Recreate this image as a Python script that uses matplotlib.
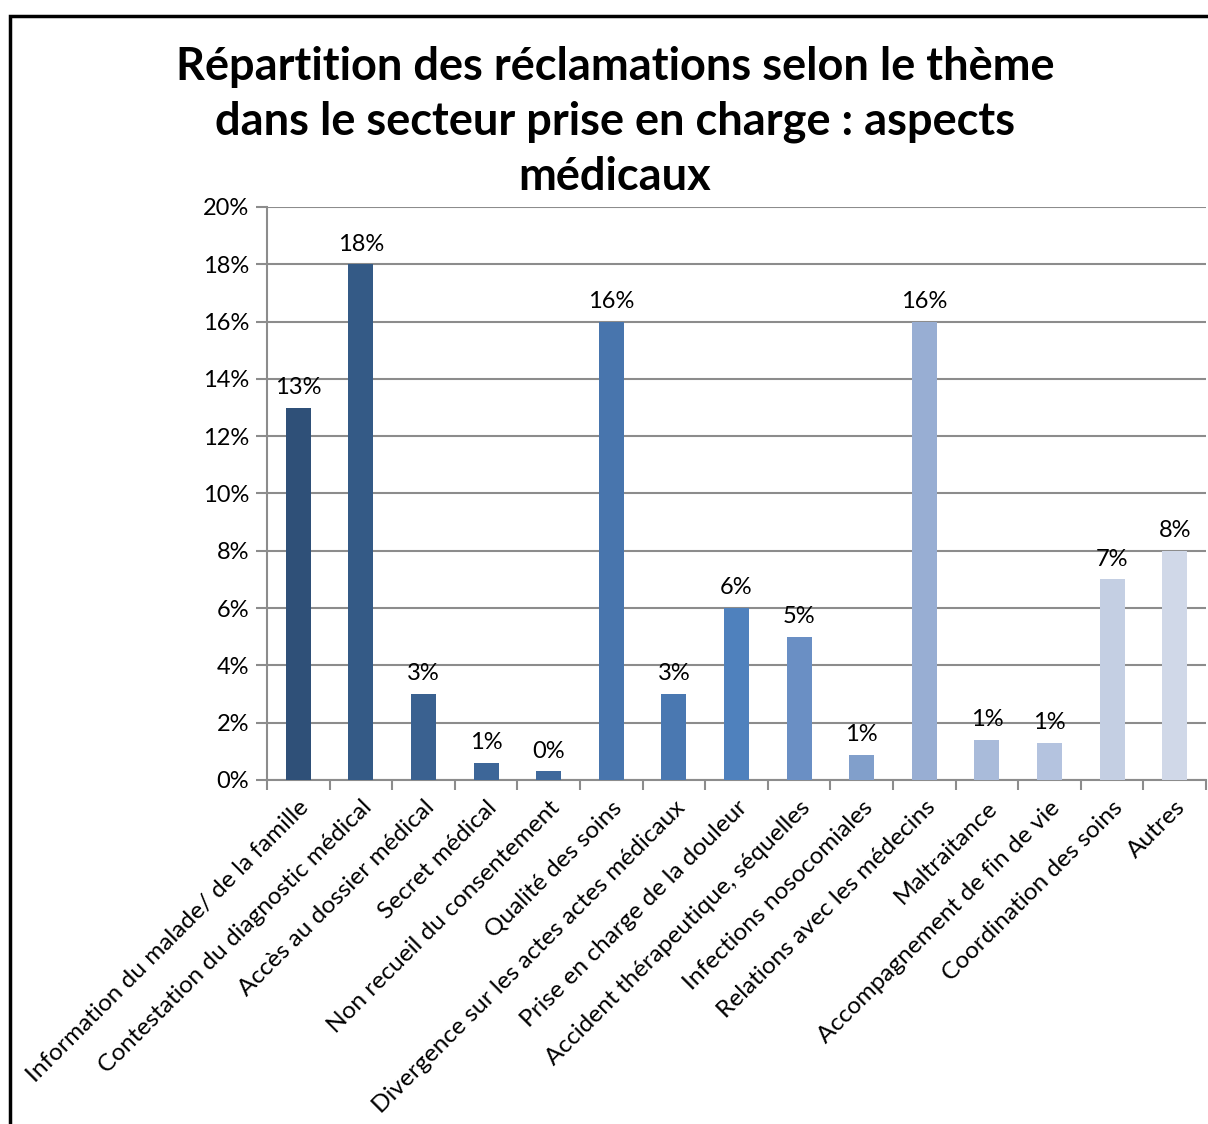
import matplotlib
matplotlib.use('Agg')
from matplotlib import pyplot as plt
from matplotlib.patches import Rectangle
from matplotlib.ticker import FuncFormatter, MultipleLocator
import numpy as np

plt.rcParams['font.family'] = ['Lato', 'DejaVu Sans']

title = 'Répartition des réclamations selon le thème\ndans le secteur prise en charge : aspects\nmédicaux'

themes = ['Information du malade/ de la famille',
          'Contestation du diagnostic médical',
          'Accès au dossier médical',
          'Secret médical',
          'Non recueil du consentement',
          'Qualité des soins',
          'Divergence sur les actes actes médicaux',
          'Prise en charge de la douleur',
          'Accident thérapeutique, séquelles',
          'Infections nosocomiales',
          'Relations avec les médecins',
          'Maltraitance',
          'Accompagnement de fin de vie',
          'Coordination des soins',
          'Autres']
shares = [13, 18, 3, 0.6, 0.3, 16, 3, 6, 5, 0.87, 16, 1.4, 1.3, 7, 8]
bar_colors = ['#2F5078', '#345A86', '#3A6190', '#3D6698', '#3F699C',
              '#4875AD', '#4A78B1', '#4F81BD', '#6A8FC4', '#819FCB',
              '#98AED3', '#A9BBDA', '#B4C3DF', '#C4CFE3', '#D0D8E8']

fig = plt.figure(figsize=(12.08, 11.24), dpi=100)
ax = fig.add_axes([267 / 1208, 344 / 1124, 939 / 1208, 573 / 1124])

x = np.arange(len(themes))
ax.bar(x, shares, width=0.4, color=bar_colors, zorder=3)
for xi, v in zip(x, shares):
    ax.annotate('%.0f%%' % v, (xi, v), xytext=(0, 7), textcoords='offset points',
                ha='center', va='bottom', fontsize=17, zorder=4)

ax.set_xlim(-0.5, len(themes) - 0.5)
ax.set_ylim(0, 20)
ax.yaxis.set_major_locator(MultipleLocator(2))
ax.yaxis.set_major_formatter(FuncFormatter(lambda v, p: '%d%%' % v))
ax.grid(axis='y', color='#8C8C8C', linewidth=1.5, zorder=0)

ax.set_xticks(x)
ax.set_xticklabels(themes, rotation=45, ha='right', rotation_mode='anchor', fontsize=17.6)
ax.set_xticks(np.arange(len(themes) + 1) - 0.5, minor=True)
ax.tick_params(axis='x', which='major', length=0, pad=12)
ax.tick_params(axis='x', which='minor', length=7, width=1.5, color='#8C8C8C')
ax.tick_params(axis='y', length=8, width=1.5, color='#8C8C8C', labelsize=17, pad=5)

for side in ['top', 'right']:
    ax.spines[side].set_visible(False)
for side in ['left', 'bottom']:
    ax.spines[side].set_color('#8C8C8C')
    ax.spines[side].set_linewidth(1.5)

fig.text(615 / 1208, 1 - 122 / 1124, title, ha='center', va='center',
         fontsize=32.5, fontweight='bold', linespacing=1.38)

fig.patches.append(Rectangle((10 / 1208, -0.1), 1.2, 1.1 - 15.5 / 1124,
                             transform=fig.transFigure, fill=False,
                             edgecolor='black', linewidth=2.5))

fig.savefig('out.png', dpi=100)
